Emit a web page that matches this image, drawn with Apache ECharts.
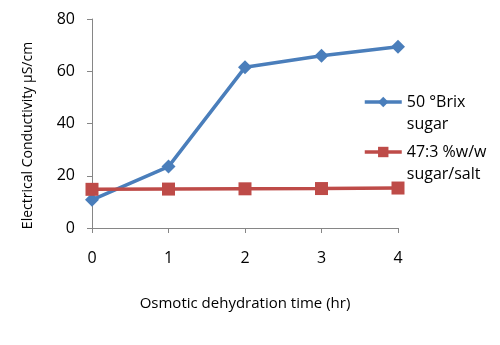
<!DOCTYPE html>
<html><head><meta charset="utf-8">
<script src="https://cdn.jsdelivr.net/npm/echarts@6/dist/echarts.min.js"></script>
<style>html,body{margin:0;padding:0;background:#fff}#c{width:500px;height:345px}</style>
</head><body><div id="c"></div>
<script>
var categories = ['0', '1', '2', '3', '4'];
var brixSugar = [10.8, 23.5, 61.5, 65.9, 69.4];
var sugarSalt = [14.8, 14.9, 15.0, 15.1, 15.3];
var seriesNames = ['50 °Brix\nsugar', '47:3 %w/w\nsugar/salt'];
var yTicks = [0, 20, 40, 60, 80];

var chart = echarts.init(document.getElementById('c'));
var font = 'Open Sans';
chart.setOption({
  animation: false,
  grid: {left: 92, right: 102, top: 19, bottom: 117, containLabel: false},
  xAxis: {
    type: 'category', data: categories, boundaryGap: false,
    name: 'Osmotic dehydration time (hr)', nameLocation: 'middle', nameGap: 68,
    nameTextStyle: {fontFamily: font, fontSize: 15, color: '#000'},
    axisLine: {lineStyle: {color: '#868686', width: 1}},
    axisTick: {show: true, length: 5, lineStyle: {color: '#868686'}},
    axisLabel: {fontFamily: font, fontSize: 16, color: '#000', margin: 22},
    splitLine: {show: false}
  },
  yAxis: {
    type: 'value', min: yTicks[0], max: yTicks[yTicks.length - 1], interval: 20,
    name: 'Electrical Conductivity µS/cm', nameLocation: 'middle', nameGap: 57,
    nameTextStyle: {fontFamily: font, fontSize: 14, color: '#000', padding: [0, 24, 0, 0]},
    axisLine: {show: true, lineStyle: {color: '#868686', width: 1}},
    axisTick: {show: true, length: 5, lineStyle: {color: '#868686'}},
    axisLabel: {fontFamily: font, fontSize: 16, color: '#000', margin: 17},
    splitLine: {show: false}
  },
  legend: {
    orient: 'vertical', left: 363, top: 69, padding: 0,
    itemWidth: 37, itemHeight: 13, itemGap: -16,
    data: seriesNames,
    formatter: function (n) { return '\n' + n; },
    lineStyle: {width: 3.5},
    textStyle: {fontFamily: font, fontSize: 16, color: '#000', lineHeight: 22}
  },
  series: [
    {name: seriesNames[0], type: 'line', data: brixSugar, symbol: 'diamond', symbolSize: 14,
     lineStyle: {color: '#4A7EBB', width: 3.5}, itemStyle: {color: '#4A7EBB'}},
    {name: seriesNames[1], type: 'line', data: sugarSalt, symbol: 'rect', symbolSize: 13,
     lineStyle: {color: '#BE4B48', width: 3.5}, itemStyle: {color: '#BE4B48'}}
  ]
});
</script></body></html>
